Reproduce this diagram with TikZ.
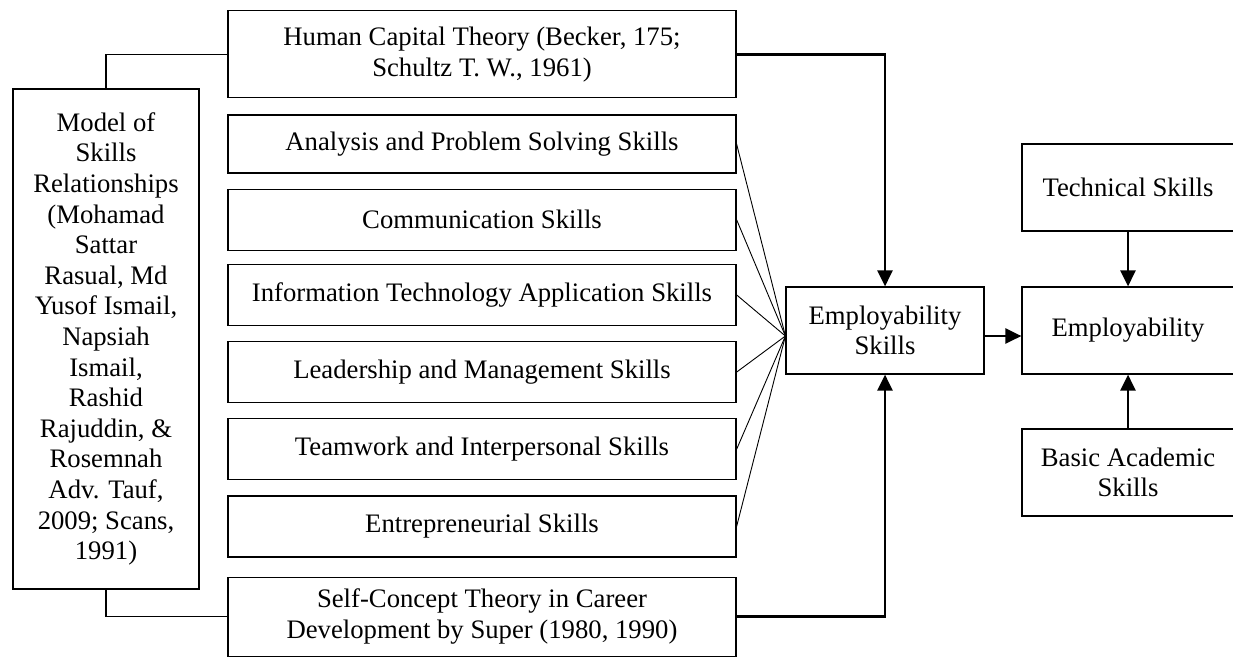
\documentclass[tikz,border=0pt]{standalone}
\usepackage{fontspec}
\setmainfont{Liberation Serif}
\usetikzlibrary{arrows.meta,positioning}

\begin{document}
\begin{tikzpicture}[
        x=1pt, y=-1pt,
        node distance=15pt,
        box/.style={
            draw,
            line width=1.2pt,
            minimum width=508pt,
            minimum height=61pt,
            align=center,
            font=\fontsize{26.7}{30.6}\selectfont
        },
        side/.style={box, minimum width=212pt, minimum height=87pt},
        link/.style={line width=1.2pt},
        fan/.style={line width=0.9pt},
        line/.style={-{Triangle[length=16pt,width=15pt]}, line width=2.6pt}
    ]
    \useasboundingbox (0,0) rectangle (1233,656);

    % skill stack
    \node[box, minimum height=58pt] (aps) at (482,144) {Analysis and Problem Solving Skills};
    \node[box, below=of aps] (com) {Communication Skills};
    \node[box, below=13pt of com] (ita) {Information Technology Application Skills};
    \node[box, below=of ita] (lms) {Leadership and Management Skills};
    \node[box, below=of lms] (tis) {Teamwork and Interpersonal Skills};
    \node[box, below=of tis] (ent) {Entrepreneurial Skills};

    % theories above and below
    \node[box, minimum height=87pt, above=16pt of aps] (hct) {Human Capital Theory (Becker, 175;\\Schultz T. W., 1961)};
    \node[box, minimum height=79pt, below=19pt of ent] (sct) {Self-Concept Theory in Career\\Development by Super (1980, 1990)};

    \node[box, minimum width=186pt, minimum height=500pt] (model) at (106,339)
        {Model of\\Skills\\Relationships\\(Mohamad\\Sattar\\Rasual, Md\\Yusof Ismail,\\Napsiah\\Ismail,\\Rashid\\Rajuddin, \&\\Rosemnah\\Adv. Tauf,\\2009; Scans,\\1991)};

    % outcome side
    \node[box, minimum width=198pt, minimum height=87pt] (es) at (885,330.5) {Employability\\Skills};
    \node[side] (emp) at (1128,330.5) {Employability};
    \node[side] (tec) at (1128,187.5) {Technical Skills};
    \node[side] (bas) at (1128,472.5) {Basic Academic\\Skills};

    \coordinate (hub) at ([yshift=-5.5pt]es.west);

    \draw[link] (model.north) |- (hct.west);
    \draw[link] (model.south) |- (sct.west);

    \foreach \s in {aps,com,ita,lms,tis,ent}
        \draw[fan] (\s.east) -- (hub);

    \draw[line] (hct.east) -| (es.north);
    \draw[line] (sct.east) -| (es.south);
    \draw[line] (es.east |- hub) -- (emp.west |- hub);
    \draw[line] (tec) -- (emp);
    \draw[line] (bas) -- (emp);
\end{tikzpicture}
\end{document}
